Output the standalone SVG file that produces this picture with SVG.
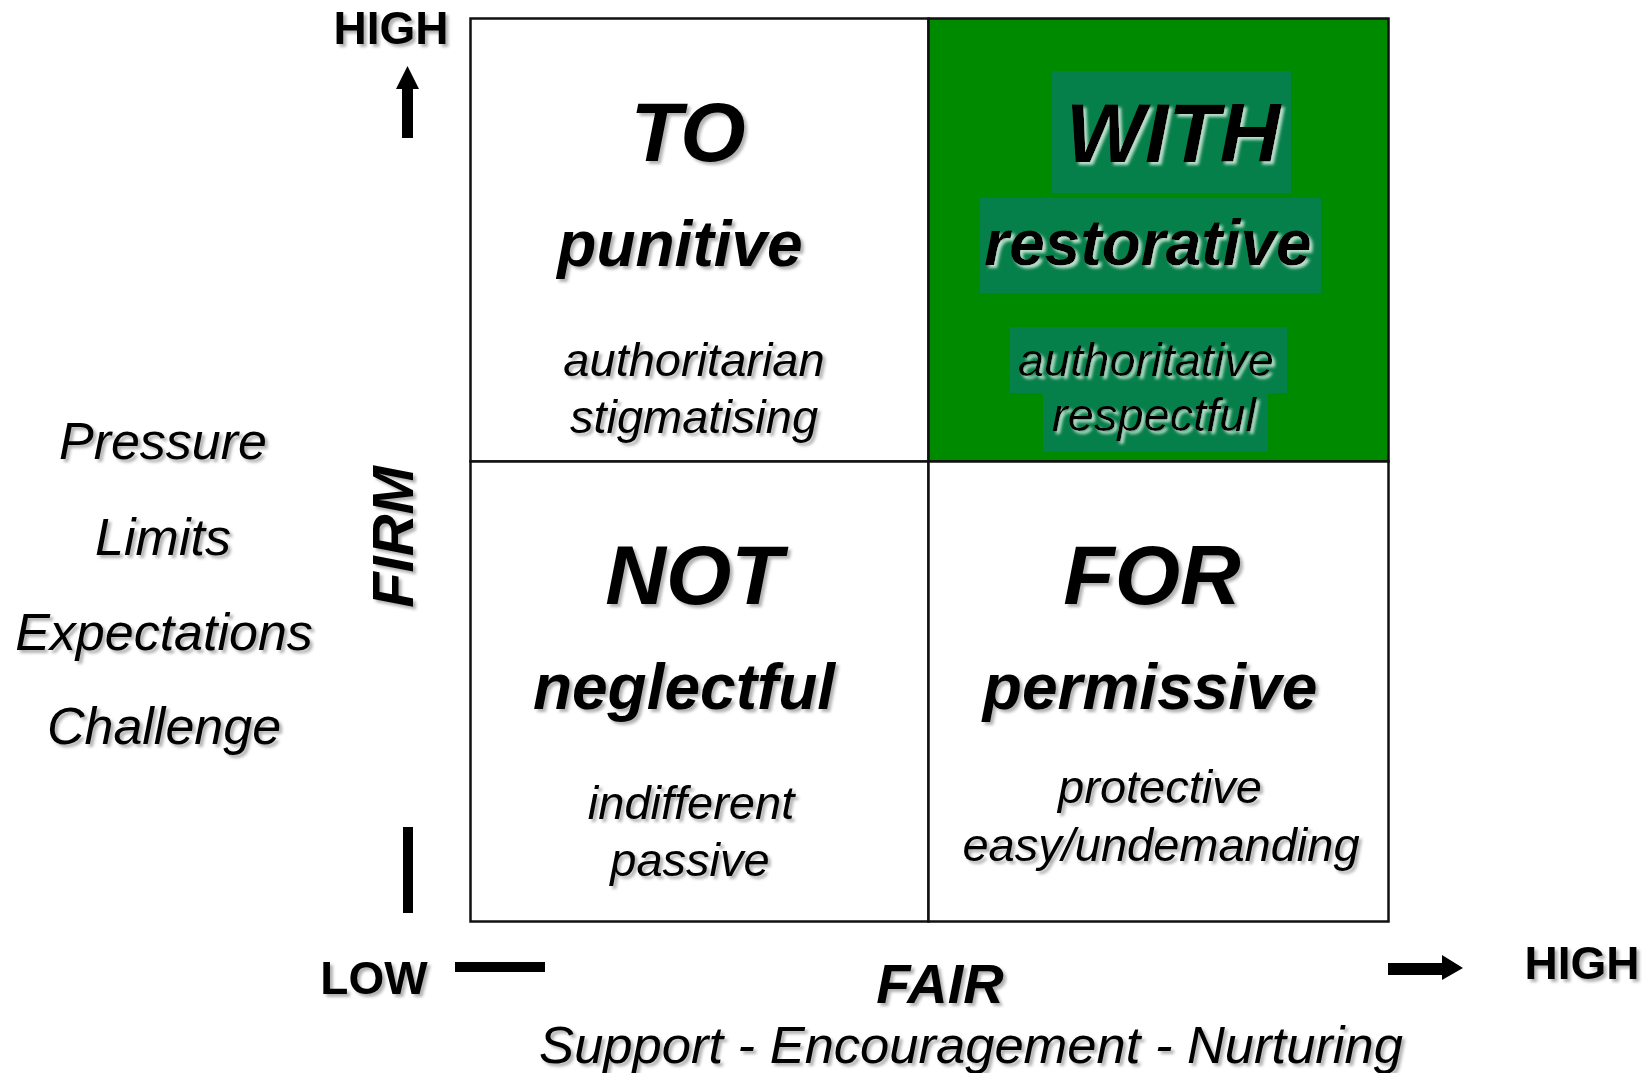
<svg xmlns="http://www.w3.org/2000/svg" width="1647" height="1073" viewBox="0 0 1647 1073">
  <defs>
    <style>
      text { font-family: "Liberation Sans", Arial, sans-serif; fill: #000; text-anchor: middle; }
      .big { font-size: 84px; font-weight: bold; font-style: italic; }
      .sub { font-size: 64px; font-weight: bold; font-style: italic; }
      .desc { font-size: 47px; font-style: italic; }
      .side { font-size: 52px; font-style: italic; }
      .axis { font-size: 58px; font-weight: bold; font-style: italic; }
      .end { font-size: 46px; font-weight: bold; }
      .scale { font-size: 52.5px; font-style: italic; }
      .cell { fill: #fff; stroke: #111; stroke-width: 2.5; }
      .cell-green { fill: #008a00; stroke: #111; stroke-width: 2.5; }
      .hl { fill: #06804a; }
      .bar { fill: #000; }
      .shade { filter: url(#shadow); }
      .glow { filter: url(#lightShadow); }
    </style>
    <filter id="shadow" x="-10%" y="-20%" width="130%" height="150%">
      <feDropShadow dx="3" dy="3" stdDeviation="1.8" flood-color="#000" flood-opacity="0.3"/>
    </filter>
    <filter id="lightShadow" x="-10%" y="-20%" width="130%" height="150%">
      <feDropShadow dx="3" dy="3" stdDeviation="1.6" flood-color="#f4fff4" flood-opacity="0.75"/>
    </filter>
  </defs>

  <rect width="1647" height="1073" fill="#fff"/>

  <!-- quadrant cells -->
  <g id="cell-to">
    <rect class="cell" x="470.5" y="18.5" width="458" height="443"/>
    <g class="shade">
      <text class="big" x="688" y="161">TO</text>
      <text class="sub" x="680" y="266">punitive</text>
      <text class="desc" x="694" y="376">authoritarian</text>
      <text class="desc" x="694" y="433">stigmatising</text>
    </g>
  </g>

  <g id="cell-with">
    <rect class="cell-green" x="928.5" y="18.5" width="460" height="443"/>
    <rect class="hl" x="1052" y="71" width="239" height="122"/>
    <rect class="hl" x="980" y="198" width="341" height="95"/>
    <rect class="hl" x="1010" y="327" width="277" height="66"/>
    <rect class="hl" x="1043" y="393" width="225" height="59"/>
    <g class="glow">
      <text class="big" x="1173" y="162">WITH</text>
      <text class="sub" x="1148" y="265">restorative</text>
      <text class="desc" x="1146" y="376">authoritative</text>
      <text class="desc" x="1154" y="431">respectful</text>
    </g>
  </g>

  <g id="cell-not">
    <rect class="cell" x="470.5" y="461.5" width="458" height="460"/>
    <g class="shade">
      <text class="big" x="694" y="604">NOT</text>
      <text class="sub" x="684" y="709">neglectful</text>
      <text class="desc" x="691" y="819">indifferent</text>
      <text class="desc" x="690" y="876">passive</text>
    </g>
  </g>

  <g id="cell-for">
    <rect class="cell" x="928.5" y="461.5" width="460" height="460"/>
    <g class="shade">
      <text class="big" x="1152" y="604">FOR</text>
      <text class="sub" x="1150" y="709">permissive</text>
      <text class="desc" x="1160" y="803">protective</text>
      <text class="desc" x="1161" y="861">easy/undemanding</text>
    </g>
  </g>

  <!-- vertical axis: firmness -->
  <g id="axis-firm" class="shade">
    <text class="end" x="391" y="44">HIGH</text>
    <text class="axis" transform="translate(413,537) rotate(-90)" x="0" y="0">FIRM</text>
    <text class="side" x="163" y="459">Pressure</text>
    <text class="side" x="163" y="555">Limits</text>
    <text class="side" x="164" y="650">Expectations</text>
    <text class="side" x="164" y="744">Challenge</text>
  </g>

  <!-- horizontal axis: fairness -->
  <g id="axis-fair" class="shade">
    <text class="end" x="374" y="994">LOW</text>
    <text class="axis" style="font-size:56px" x="940" y="1003">FAIR</text>
    <text class="end" x="1582" y="979">HIGH</text>
    <text class="scale" x="971" y="1063">Support - Encouragement - Nurturing</text>
  </g>

  <!-- axis arrows and ticks -->
  <g id="connectors">
    <path class="bar" d="M402,138 L402,89 L396,89 L407.5,66 L419,89 L413,89 L413,138 Z"/>
    <rect class="bar" x="403" y="827" width="10" height="86"/>
    <rect class="bar" x="455" y="962" width="90" height="10"/>
    <path class="bar" d="M1388,963 L1442,963 L1442,955 L1463,968 L1442,980 L1442,975 L1388,975 Z"/>
  </g>
</svg>
